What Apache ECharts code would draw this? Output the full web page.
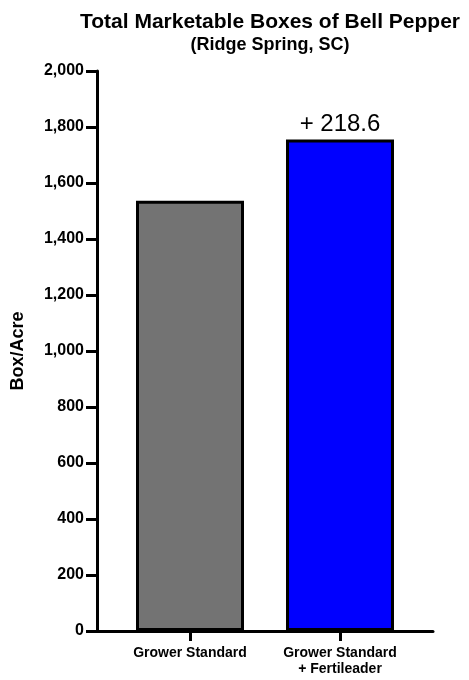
<!DOCTYPE html>
<html>
<head>
<meta charset="utf-8">
<script src="https://cdn.jsdelivr.net/npm/echarts@6/dist/echarts.min.js"></script>
<style>
  html, body { margin: 0; padding: 0; background: #fff; }
  #chart { width: 469px; height: 680px; }
</style>
</head>
<body>
<div id="chart"></div>
<script>
const categories = ['Grower Standard', 'Grower Standard\n+ Fertileader']
const boxesPerAcre = [1537.0, 1755.6]
const barColors = ['#737373', '#0000ff']
const diffLabel = '+ 218.6'

const font = '"Liberation Sans", Arial, Helvetica, sans-serif'
const chart = echarts.init(document.getElementById('chart'))

chart.setOption({
  animation: false,
  title: {
    text: 'Total Marketable Boxes of Bell Pepper',
    subtext: '(Ridge Spring, SC)',
    left: 265,
    textAlign: 'center',
    top: 7,
    itemGap: 3,
    textStyle: { fontFamily: font, fontWeight: 'bold', fontSize: 21, color: '#000' },
    subtextStyle: { fontFamily: font, fontWeight: 'bold', fontSize: 18, color: '#000' }
  },
  grid: { left: 97, right: 36, top: 71, bottom: 49 },
  xAxis: {
    type: 'value',
    min: -0.62,
    max: 1.62,
    splitLine: { show: false },
    axisLine: { lineStyle: { color: '#000', width: 3 } },
    axisTick: { show: true, length: 10, lineStyle: { color: '#000', width: 3 }, customValues: [0, 1] },
    axisLabel: {
      customValues: [0, 1],
      formatter: v => categories[Math.round(v)] || '',
      fontFamily: font, fontWeight: 'bold', fontSize: 14, color: '#000',
      lineHeight: 16, margin: 14
    }
  },
  yAxis: {
    type: 'value',
    min: 0,
    max: 2000,
    interval: 200,
    name: 'Box/Acre',
    nameLocation: 'middle',
    nameRotate: 90,
    nameGap: 70,
    nameTextStyle: { fontFamily: font, fontWeight: 'bold', fontSize: 18, color: '#000' },
    splitLine: { show: false },
    axisLine: { show: true, onZero: false, lineStyle: { color: '#000', width: 3 } },
    axisTick: { show: true, length: 11, lineStyle: { color: '#000', width: 3 } },
    axisLabel: {
      formatter: v => v.toLocaleString('en-US'),
      fontFamily: font, fontWeight: 'bold', fontSize: 16, color: '#000', margin: 13
    }
  },
  series: [{
    type: 'bar',
    barWidth: 108,
    data: boxesPerAcre.map((v, i) => ({
      value: [i, v],
      itemStyle: { color: barColors[i], borderColor: '#000', borderWidth: 3 },
      label: i === 1 ? {
        show: true, position: 'top', distance: 3, formatter: diffLabel,
        fontFamily: font, fontSize: 24, color: '#000'
      } : { show: false }
    }))
  }]
})
</script>
</body>
</html>
